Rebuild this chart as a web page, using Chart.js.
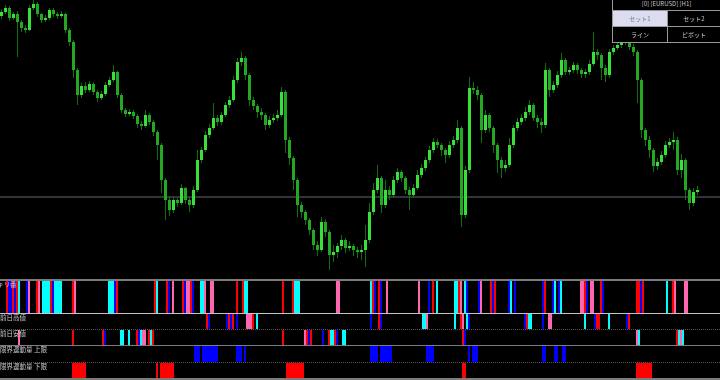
<!DOCTYPE html>
<html>
<head>
<meta charset="utf-8">
<script src="https://cdn.jsdelivr.net/npm/chart.js@4"></script>
<style>
  html, body { margin: 0; padding: 0; background: #000; width: 720px; height: 380px; overflow: hidden; }
  canvas { position: absolute; left: 0; display: block; }
  .sep { position: absolute; left: 0; width: 720px; }
  .lbl { position: absolute; font-family: "Noto Sans CJK JP"; font-size: 6.5px; line-height: 7px; color: #c8c8c8; white-space: nowrap; z-index: 2; }
  .cell { position: absolute; box-sizing: border-box; border: 1px solid #9a9a9a; background: #000; color: #c8c8c8;
          font-family: "Noto Sans CJK JP"; font-size: 6px; text-align: center; white-space: nowrap; z-index: 3; }
</style>
</head>
<body>
<canvas id="main" width="720" height="279" style="top:0"></canvas>
<div class="sep" style="top:279px;height:2px;background:#7c7c7c"></div>
<canvas id="kiri" width="720" height="32" style="top:281px"></canvas>
<div class="sep" style="top:313px;height:1px;background:#c4c4c4"></div>
<canvas id="prevHigh" width="720" height="15" style="top:314px"></canvas>
<div class="sep" style="top:329px;border-top:1px dotted #555"></div>
<canvas id="prevLow" width="720" height="15" style="top:330px"></canvas>
<div class="sep" style="top:345px;height:1px;background:#7c7c7c"></div>
<canvas id="limUp" width="720" height="16" style="top:346px"></canvas>
<div class="sep" style="top:362px;border-top:1px dotted #555"></div>
<canvas id="limDown" width="720" height="15" style="top:363px"></canvas>
<div class="sep" style="top:378px;height:2px;background:#7c7c7c"></div>

<div class="lbl" style="left:-3px;top:281px">キリ番</div>
<div class="lbl" style="left:0;top:314px">前日高値</div>
<div class="lbl" style="left:0;top:330px">前日安値</div>
<div class="lbl" style="left:0;top:346px">限界運動量 上限</div>
<div class="lbl" style="left:0;top:363px">限界運動量 下限</div>

<div class="cell" style="left:612px;top:-1px;width:109px;height:12px;line-height:8px">[0] [EURUSD] [H1]</div>
<div class="cell" style="left:612px;top:10px;width:56px;height:17px;line-height:15px;background:#dcdcf0;color:#7a7a8a">セット1</div>
<div class="cell" style="left:667px;top:10px;width:54px;height:17px;line-height:15px">セット2</div>
<div class="cell" style="left:612px;top:26px;width:56px;height:17px;line-height:15px">ライン</div>
<div class="cell" style="left:667px;top:26px;width:54px;height:17px;line-height:15px">ピボット</div>

<script>
// EURUSD H1, prices in pips above the low of the visible range
const firstOpen = 262;
const close = [
  266, 270, 260, 264, 256, 250, 248, 270, 274, 264,
  258, 260, 268, 264, 262, 264, 248, 236, 208, 183,
  192, 188, 194, 186, 180, 184, 193, 198, 206, 183,
  168, 164, 166, 162, 154, 152, 163, 156, 146, 133,
  98, 78, 68, 78, 75, 90, 78, 73, 88, 118,
  128, 143, 150, 160, 156, 163, 173, 178, 198, 216,
  220, 203, 178, 172, 166, 163, 153, 158, 160, 163,
  186, 138, 120, 98, 73, 66, 58, 48, 33, 28,
  56, 46, 23, 26, 32, 38, 30, 32, 28, 26,
  28, 38, 66, 88, 100, 73, 88, 83, 98, 106,
  100, 88, 83, 90, 103, 110, 118, 128, 136, 133,
  128, 123, 133, 138, 150, 63, 108, 190, 188, 183,
  148, 163, 150, 133, 118, 110, 113, 133, 150, 156,
  160, 166, 173, 160, 156, 153, 208, 188, 193, 203,
  218, 206, 208, 213, 208, 204, 206, 214, 226, 223,
  210, 203, 226, 230, 233, 236, 238, 231, 226, 198,
  148, 138, 128, 112, 116, 123, 133, 136, 138, 108,
  118, 88, 75, 86, 88
];
const high = [
  269, 273, 272, 266, 267, 258, 253, 273, 278, 276,
  265, 263, 270, 270, 266, 267, 265, 250, 238, 210,
  195, 196, 197, 196, 188, 187, 196, 201, 213, 207,
  185, 170, 169, 168, 164, 157, 168, 165, 158, 148,
  135, 100, 82, 81, 80, 94, 91, 80, 92, 128,
  131, 147, 154, 175, 163, 166, 176, 182, 202, 220,
  226, 222, 205, 181, 174, 170, 165, 162, 164, 168,
  191, 188, 141, 122, 100, 76, 68, 60, 50, 37,
  61, 59, 48, 33, 35, 43, 40, 37, 34, 31,
  33, 53, 75, 95, 113, 102, 98, 92, 102, 110,
  108, 102, 91, 94, 108, 114, 121, 132, 140, 139,
  135, 130, 137, 142, 158, 152, 112, 201, 196, 192,
  185, 168, 165, 152, 135, 121, 118, 140, 153, 160,
  164, 171, 178, 175, 163, 160, 215, 210, 197, 207,
  225, 220, 211, 216, 215, 210, 209, 218, 246, 229,
  225, 213, 229, 233, 236, 239, 242, 240, 234, 228,
  200, 150, 142, 130, 120, 127, 137, 140, 146, 141,
  124, 120, 90, 90, 92
];
const low = [
  259, 264, 257, 258, 221, 246, 245, 247, 268, 261,
  255, 256, 258, 261, 259, 260, 245, 232, 200, 173,
  180, 185, 186, 183, 176, 178, 182, 191, 196, 180,
  165, 161, 162, 159, 150, 148, 150, 153, 142, 118,
  85, 58, 62, 65, 71, 73, 74, 66, 70, 86,
  115, 126, 140, 148, 152, 153, 161, 170, 176, 195,
  212, 198, 172, 168, 160, 158, 148, 150, 155, 157,
  161, 125, 113, 88, 61, 60, 53, 43, 28, 22,
  26, 41, 8, 16, 20, 28, 25, 27, 22, 20,
  18, 11, 35, 63, 85, 65, 70, 78, 80, 95,
  96, 84, 68, 80, 88, 100, 107, 115, 125, 130,
  122, 115, 120, 130, 135, 51, 60, 105, 184, 178,
  135, 145, 146, 125, 105, 100, 106, 111, 130, 147,
  153, 157, 163, 157, 150, 145, 150, 181, 185, 190,
  200, 203, 203, 205, 204, 200, 200, 203, 212, 218,
  198, 196, 200, 223, 228, 230, 233, 228, 222, 175,
  140, 132, 120, 106, 108, 113, 120, 130, 128, 103,
  100, 78, 68, 72, 83
];
const levelPrice = 81;

// indicator windows: slots where each colour is lit
const kiriRed = [3, 6, 8, 18, 25, 36, 58, 77, 83, 91, 95, 118, 121, 141, 146, 186, 189, 216, 229, 245, 247, 272, 292, 300, 318, 319, 321, 336];
const kiriBlue = [4, 5, 7, 13, 26, 57, 84, 92, 96, 187, 190, 214, 233, 239, 246, 254, 257, 271, 276, 279, 293, 301, 320];
const kiriCyan = [9, 21, 22, 23, 24, 27, 28, 29, 30, 54, 55, 56, 78, 100, 101, 122, 123, 147, 148, 149, 185, 218, 227, 228, 232, 255, 277, 280, 333];
const kiriPink = [14, 19, 37, 86, 93, 94, 102, 105, 106, 168, 169, 193, 209, 230, 240, 290, 291, 295, 296, 337, 342, 343];

const prevHighRed = [103, 114, 116, 126, 189, 230, 263, 298, 299, 314];
const prevHighBlue = [104, 113, 115, 118, 185, 190, 234, 262, 271, 297, 313];
const prevHighCyan = [128, 211, 212, 227, 233, 264, 265, 292, 304];
const prevHighPink = [123, 124, 125, 213, 231, 274, 275];

const prevLowRed = [36, 51, 68, 74, 76, 141, 153, 155, 164, 167, 231, 338];
const prevLowBlue = [52, 69, 154, 161, 168, 232];
const prevLowCyan = [60, 61, 64, 70, 75, 165, 166, 171, 172, 319, 339, 341];
const prevLowPink = [9, 71, 72, 152, 318, 340];

const limitUpper = [97, 98, 99, 101, 102, 103, 104, 105, 106, 107, 108, 118, 119, 120, 122,
  185, 186, 187, 188, 190, 191, 192, 193, 194, 195, 213, 214, 215, 216, 234, 236, 237, 238,
  271, 272, 277, 278, 281, 282];
const limitLower = [36, 37, 38, 39, 40, 41, 42, 78, 80, 81, 82, 83, 84, 85, 86,
  143, 144, 145, 146, 147, 148, 149, 150, 151, 231, 232, 318, 319, 320, 321, 322, 323, 324, 325];

const RED = "#ff0000", BLUE = "#0000ff", CYAN = "#00ffff", PINK = "#ff66b0";

const idx = close.map((_, i) => i);
const open = close.map((c, i) => (i === 0 ? firstOpen : close[i - 1]));

const base = {
  responsive: false,
  animation: false,
  devicePixelRatio: 1,
  events: [],
  layout: { padding: 0 },
  plugins: { legend: { display: false }, tooltip: { enabled: false } },
};

new Chart(document.getElementById("main"), {
  type: "bar",
  data: {
    datasets: [
      {
        type: "line",
        data: [{ x: -0.375, y: levelPrice }, { x: 179.625, y: levelPrice }],
        borderColor: "#30333a",
        borderWidth: 2,
        pointRadius: 0,
        order: 3,
      },
      {
        data: idx.map((i) => ({ x: i, y: [low[i], high[i]] })),
        backgroundColor: "#0c700c",
        barThickness: 1,
        grouped: false,
        inflateAmount: 0,
        order: 2,
      },
      {
        data: idx.map((i) => ({ x: i, y: [open[i], close[i]] })),
        backgroundColor: idx.map((i) => (close[i] >= open[i] ? "#3ae03a" : "#22a822")),
        barThickness: 3,
        minBarLength: 1,
        grouped: false,
        inflateAmount: 0,
        order: 1,
      },
    ],
  },
  options: {
    ...base,
    scales: {
      x: { type: "linear", min: -0.375, max: 179.625, offset: false, display: false },
      y: { min: -1, max: 278, display: false },
    },
  },
});

function strip(id, groups) {
  new Chart(document.getElementById(id), {
    type: "bar",
    data: {
      datasets: groups.map(([slots, color]) => ({
        data: slots.map((s) => ({ x: s, y: 1 })),
        backgroundColor: color,
        barThickness: 2,
        grouped: false,
        inflateAmount: 0,
      })),
    },
    options: {
      ...base,
      scales: {
        x: { type: "linear", min: -0.5, max: 359.5, offset: false, display: false },
        y: { min: 0, max: 1, display: false },
      },
    },
  });
}

strip("kiri", [[kiriRed, RED], [kiriBlue, BLUE], [kiriCyan, CYAN], [kiriPink, PINK]]);
strip("prevHigh", [[prevHighRed, RED], [prevHighBlue, BLUE], [prevHighCyan, CYAN], [prevHighPink, PINK]]);
strip("prevLow", [[prevLowRed, RED], [prevLowBlue, BLUE], [prevLowCyan, CYAN], [prevLowPink, PINK]]);
strip("limUp", [[limitUpper, BLUE]]);
strip("limDown", [[limitLower, RED]]);
</script>
</body>
</html>
